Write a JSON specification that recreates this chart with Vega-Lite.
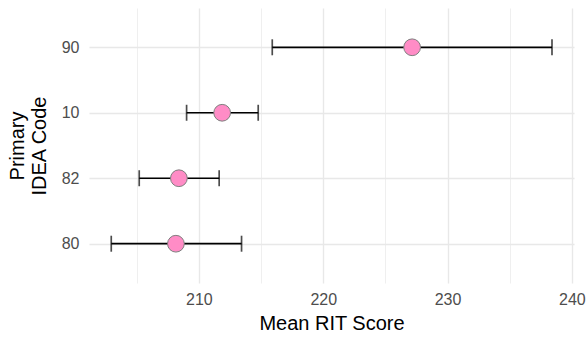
{
  "$schema": "https://vega.github.io/schema/vega-lite/v6.json",
  "autosize": {"type": "none"},
  "width": 485,
  "height": 275,
  "padding": {"left": 89, "top": 8, "right": 12, "bottom": 56},
  "background": "white",
  "config": {
    "view": {"stroke": null},
    "font": "Liberation Sans",
    "axis": {"labelFont": "Liberation Sans", "titleFont": "Liberation Sans"}
  },
  "data": {
    "values": [
      {"code": "90", "mean": 227.15, "lo": 215.9, "hi": 238.4},
      {"code": "10", "mean": 211.87, "lo": 209.01, "hi": 214.77},
      {"code": "82", "mean": 208.39, "lo": 205.2, "hi": 211.63},
      {"code": "80", "mean": 208.15, "lo": 202.95, "hi": 213.43}
    ]
  },
  "encoding": {
    "y": {
      "field": "code",
      "type": "nominal",
      "sort": ["90", "10", "82", "80"],
      "scale": {"type": "point", "padding": 0.6},
      "axis": {
        "title": ["Primary", "IDEA Code"],
        "titleFontSize": 20,
        "titleFontWeight": "normal",
        "titleColor": "black",
        "titlePadding": 12,
        "titleLineHeight": 22,
        "labelFontSize": 16,
        "labelColor": "#4D4D4D",
        "labelPadding": 10,
        "ticks": false,
        "domain": false,
        "grid": true,
        "gridColor": "#E8E8E8",
        "gridWidth": 1.4
      }
    }
  },
  "layer": [
    {
      "mark": {"type": "rule", "color": "black", "strokeWidth": 1.7},
      "encoding": {
        "x": {
          "field": "lo",
          "type": "quantitative",
          "scale": {"domain": [201.16, 240.17], "nice": false, "zero": false},
          "axis": {
            "title": "Mean RIT Score",
            "titleFontSize": 20,
            "titleFontWeight": "normal",
            "titleColor": "black",
            "titlePadding": 6,
            "values": [205, 210, 215, 220, 225, 230, 235, 240],
            "labelExpr": "datum.value % 10 == 0 ? datum.label : ''",
            "labelFontSize": 16,
            "labelColor": "#4D4D4D",
            "labelPadding": 8,
            "ticks": false,
            "domain": false,
            "grid": true,
            "gridColor": {"condition": {"test": "datum.value % 10 != 0", "value": "#EFEFEF"}, "value": "#E8E8E8"},
            "gridWidth": {"condition": {"test": "datum.value % 10 != 0", "value": 1.1}, "value": 1.4}
          }
        },
        "x2": {"field": "hi"}
      }
    },
    {
      "mark": {"type": "tick", "color": "black", "thickness": 1.7, "size": 16},
      "encoding": {"x": {"field": "lo", "type": "quantitative"}}
    },
    {
      "mark": {"type": "tick", "color": "black", "thickness": 1.7, "size": 16},
      "encoding": {"x": {"field": "hi", "type": "quantitative"}}
    },
    {
      "mark": {"type": "circle", "fill": "#FF8CC6", "stroke": "#7F7F7F", "strokeWidth": 1, "size": 280, "opacity": 1, "fillOpacity": 1},
      "encoding": {"x": {"field": "mean", "type": "quantitative"}}
    }
  ]
}
